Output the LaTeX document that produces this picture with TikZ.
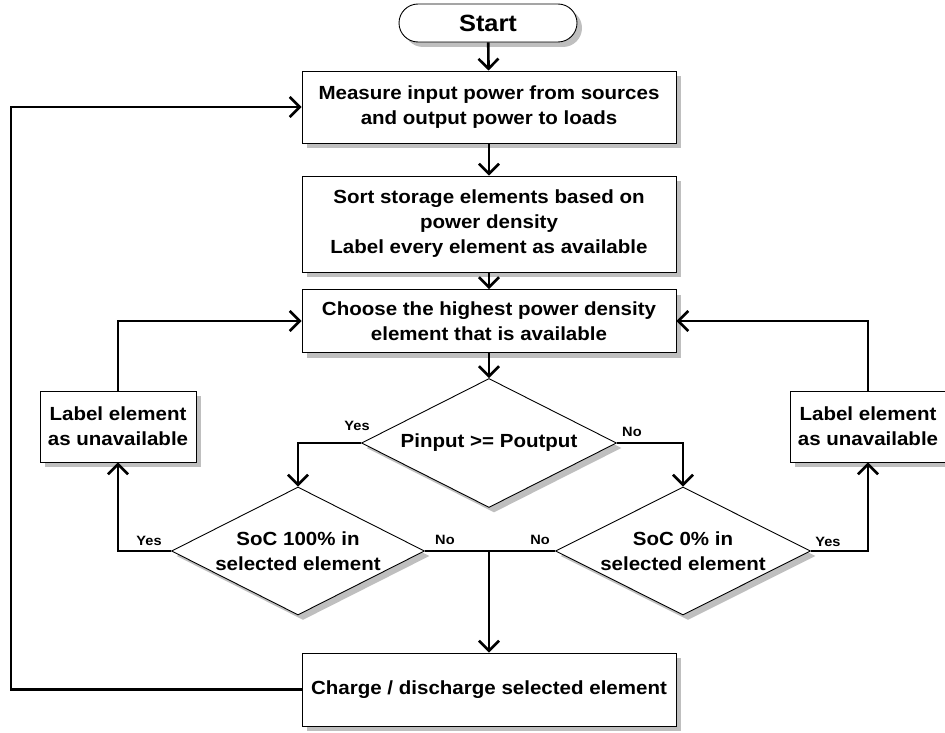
\documentclass[tikz,border=0pt]{standalone}
\usepackage{fontspec}
\setmainfont{Liberation Sans}[FakeStretch=1.08]
\usetikzlibrary{arrows.meta,shapes.geometric,shapes.misc,shadows}
\tikzset{
	flowtext/.style={font=\bfseries\fontsize{19}{25}\selectfont, align=center},
	shadowed/.style={drop shadow={shadow xshift=5pt, shadow yshift=-5pt, fill=black!25, opacity=1}},
	procbox/.style={flowtext, shadowed, draw, line width=0.9pt, fill=white, rectangle, inner sep=0pt},
	decbox/.style={flowtext, shadowed, draw, line width=0.9pt, fill=white, diamond, aspect=2, inner sep=0pt},
	termbox/.style={shadowed, draw, line width=0.9pt, fill=white, rounded rectangle, inner sep=0pt, font=\bfseries\fontsize{23.5}{28}\selectfont},
	link/.style={line width=2.6pt},
	flow/.style={link, -{Straight Barb[length=10pt,width=20pt]}},
	answer/.style={font=\bfseries\fontsize{13.5}{16}\selectfont, inner sep=0pt},
}

\begin{document}
\begin{tikzpicture}[x=1pt, y=-1pt]
			%%%%% START %%%%%
			\useasboundingbox (0,0) rectangle (945,733);
			
			\node[termbox, minimum width=178pt, minimum height=38pt] (start) at (488,23) {Start};
			
			\node[procbox, minimum width=374pt, minimum height=72pt] (measure) at (489,107) {Measure input power from sources\\and output power to loads};
			\node[procbox, minimum width=374pt, minimum height=96pt] (sort) at (489,224) {Sort storage elements based on\\power density\\Label every element as available};
			\node[procbox, minimum width=374pt, minimum height=63pt] (choose) at (489,321) {Choose the highest power density\\element that is available};
			
			\node[decbox, minimum width=255pt, minimum height=129pt] (pcheck) at (489,443) {Pinput >= Poutput};
			\node[decbox, minimum width=253pt, minimum height=128pt] (socfull) at (298,551) {SoC 100\% in\\selected element};
			\node[decbox, minimum width=255pt, minimum height=128pt] (socempty) at (683,551) {SoC 0\% in\\selected element};
			
			\node[procbox, minimum width=156pt, minimum height=71pt] (markleft) at (118,426.5) {Label element\\as unavailable};
			\node[procbox, minimum width=156pt, minimum height=71pt] (markright) at (868,426.5) {Label element\\as unavailable};
			
			\node[procbox, minimum width=374pt, minimum height=73pt] (charge) at (489,689.5) {Charge / discharge selected element};
			
			% main column
			\draw[flow] (start) -- (measure);
			\draw[flow] (measure) -- (sort);
			\draw[flow] (sort) -- (choose);
			\draw[flow] (choose) -- (pcheck);
			
			% first decision
			\draw[flow] (pcheck.west) -| (socfull.north);
			\draw[flow] (pcheck.east) -| (socempty.north);
			\node[answer] (yesfirst) at ([xshift=-4pt,yshift=17pt]pcheck.west) {Yes};
			\node[answer] (nofirst) at ([xshift=15pt,yshift=11pt]pcheck.east) {No};
			
			% both "No" branches join
			\coordinate (merge) at (charge.north |- socfull.east);
			\draw[link] (socfull.east) -- (socempty.west);
			\draw[flow] (merge) -- (charge.north);
			\node[answer] (nofull) at ([xshift=20pt,yshift=11pt]socfull.east) {No};
			\node[answer] (noempty) at ([xshift=-15pt,yshift=11pt]socempty.west) {No};
			
			% "Yes" branches loop back
			\draw[flow] (socfull.west) -| (markleft.south);
			\draw[flow] (socempty.east) -| (markright.south);
			\node[answer] (yesfull) at ([xshift=-22pt,yshift=10pt]socfull.west) {Yes};
			\node[answer] (yesempty) at ([xshift=17pt,yshift=9pt]socempty.east) {Yes};
			\draw[flow] (markleft.north) |- (choose.west);
			\draw[flow] (markright.north) |- (choose.east);
			
			% back to measuring
			\coordinate (back) at (11,689.5);
			\draw[flow] (charge.west) -- (back) |- (measure.west);
			
			%%%%% END %%%%%
\end{tikzpicture}
\end{document}
